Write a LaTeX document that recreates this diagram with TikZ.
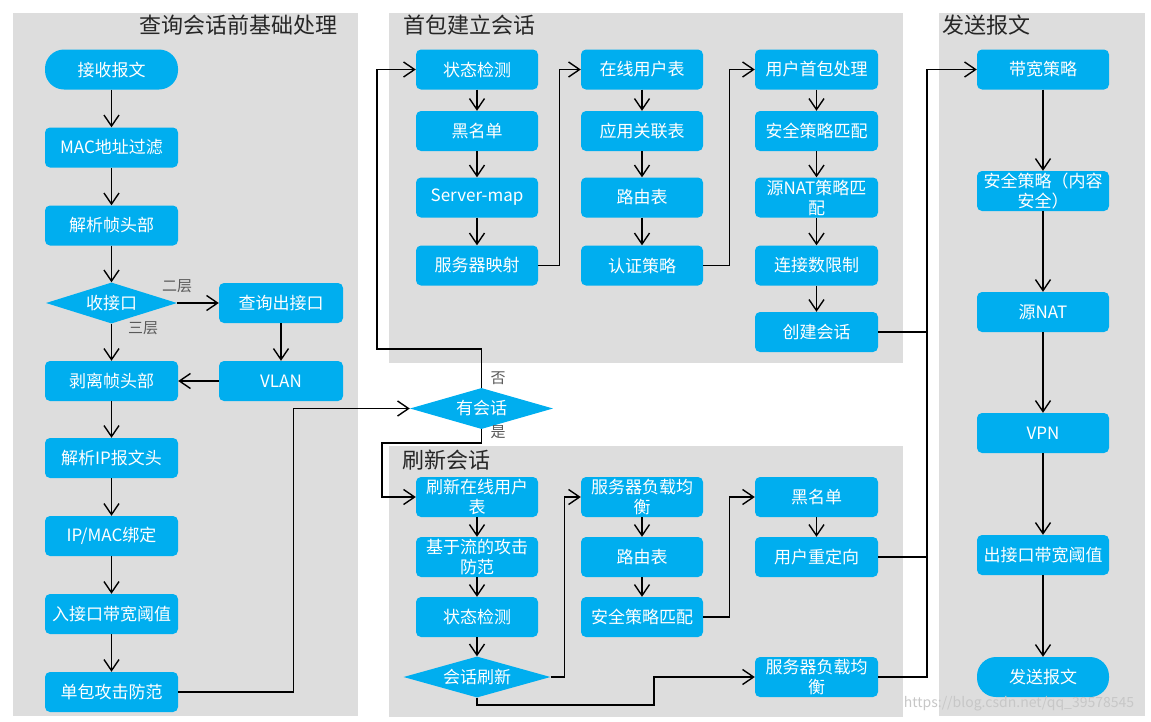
\documentclass[tikz,border=0pt]{standalone}
\usepackage{fontspec}
\setmainfont{Noto Sans CJK SC}
\usetikzlibrary{shapes.geometric,arrows.meta}

\definecolor{boxblue}{RGB}{0,174,239}
\definecolor{panelgray}{RGB}{221,221,221}

\tikzset{
  box/.style={rectangle, rounded corners=5pt, fill=boxblue, text=white,
    minimum width=#1, minimum height=40pt, inner sep=0pt, align=center,
    font=\fontsize{17}{20}\selectfont},
  box/.default=122pt,
  term/.style={box=#1, rounded corners=19pt},
  term/.default=133pt,
  decide/.style={diamond, fill=boxblue, text=white, minimum width=#1,
    minimum height=41pt, shape aspect=3.4, inner sep=0pt,
    font=\fontsize{17}{20}\selectfont},
  decide/.default=143pt,
  arr/.style={-{Straight Barb[length=11pt,width=15pt,line width=1.4pt]}, line width=1.4pt},
  wire/.style={line width=1.4pt},
  panel/.style={fill=panelgray},
  title/.style={font=\fontsize{22}{24}\selectfont, text=black!85},
  tag/.style={font=\fontsize{15}{17}\selectfont, text=black!65}
}

\begin{document}
\begin{tikzpicture}[x=1pt, y=-1pt]
\useasboundingbox (0,0) rectangle (1151,721);

% panels
\path[panel] (13,13) rectangle (358,716);
\path[panel] (389,13) rectangle (903,363);
\path[panel] (389,446) rectangle (903,717);
\path[panel] (939,13) rectangle (1145,716);

% titles
\node[title] (tpre) at (238,25) {查询会话前基础处理};
\node[title] (tfirst) at (469,25) {首包建立会话};
\node[title] (trefresh) at (446,460) {刷新会话};
\node[title] (tsend) at (986,25) {发送报文};

% before session lookup
\node[term] (recv) at (111.5,69.5) {接收报文};
\node[box=133pt] (macflt) at (111.5,147.5) {MAC地址过滤};
\node[box=133pt] (parsehdr) at (111.5,225.5) {解析帧头部};
\node[decide=131pt] (iface) at (111.5,303) {收接口};
\node[box=124pt] (lookout) at (281,303) {查询出接口};
\node[box=133pt] (strip) at (111.5,381) {剥离帧头部};
\node[box=124pt] (vlan) at (281,381) {VLAN};
\node[box=133pt] (parseip) at (111.5,458) {解析IP报文头};
\node[box=133pt] (ipmac) at (111.5,536) {IP/MAC绑定};
\node[box=133pt] (inbw) at (111.5,614) {入接口带宽阈值};
\node[box=133pt] (atk) at (111.5,692) {单包攻击防范};

% session decision
\node[decide] (hassess) at (481.5,408.5) {有会话};

% first packet
\node[box] (st1) at (477,69.5) {状态检测};
\node[box] (black1) at (477,131) {黑名单};
\node[box] (svmap) at (477,197.5) {Server-map};
\node[box] (mapping) at (477,265.5) {服务器映射};
\node[box] (online) at (642,69.5) {在线用户表};
\node[box] (appass) at (642,131) {应用关联表};
\node[box] (route1) at (642,197.5) {路由表};
\node[box] (auth) at (642,265.5) {认证策略};
\node[box=123pt] (ufirst) at (816.5,69.5) {用户首包处理};
\node[box=123pt] (sec1) at (816.5,131) {安全策略匹配};
\node[box=123pt] (snat1) at (816.5,197.5) {源NAT策略匹\\配};
\node[box=123pt] (connlim) at (816.5,265.5) {连接数限制};
\node[box=123pt] (create) at (816.5,332) {创建会话};

% refresh session
\node[box] (rfuser) at (477,497) {刷新在线用户\\表};
\node[box] (flowatk) at (477,557) {基于流的攻击\\防范};
\node[box] (st2) at (477,617) {状态检测};
\node[decide=147pt] (refresh) at (477,677) {会话刷新};
\node[box] (slb1) at (642,497) {服务器负载均\\衡};
\node[box] (route2) at (642,557) {路由表};
\node[box] (sec2) at (642,617) {安全策略匹配};
\node[box=123pt] (black2) at (816.5,497) {黑名单};
\node[box=123pt] (redir) at (816.5,557) {用户重定向};
\node[box=123pt] (slb2) at (816.5,677) {服务器负载均\\衡};

% send
\node[box=132pt] (bw) at (1043,69.5) {带宽策略};
\node[box=132pt] (sec3) at (1043,191) {安全策略（内容\\安全）};
\node[box=132pt] (snat2) at (1043,312) {源NAT};
\node[box=132pt] (vpn) at (1043,433) {VPN};
\node[box=132pt] (outbw) at (1043,555) {出接口带宽阈值};
\node[term=132pt] (send) at (1043,677) {发送报文};

% labels
\node[tag] (l2) at (177,286) {二层};
\node[tag] (l3) at (143,328) {三层};
\node[tag] (no) at (498,378) {否};
\node[tag] (yes) at (498,432) {是};
\node[font=\fontsize{14}{16}\selectfont, text=black!22] (wm) at (1019,704) {https://blog.csdn.net/qq\_39578545};

% joints
\coordinate (nojoin) at (377,349);
\coordinate (yesjoin) at (382,443);
\coordinate (rfjoin) at (654,705);
\coordinate (sendjoin) at (927,332);

% arrows
\draw[arr] (recv) -- (macflt);
\draw[arr] (macflt) -- (parsehdr);
\draw[arr] (parsehdr) -- (iface);
\draw[arr] (iface) -- (lookout);
\draw[arr] (iface) -- (strip);
\draw[arr] (lookout) -- (vlan);
\draw[arr] (vlan) -- (strip);
\draw[arr] (strip) -- (parseip);
\draw[arr] (parseip) -- (ipmac);
\draw[arr] (ipmac) -- (inbw);
\draw[arr] (inbw) -- (atk);
\draw[arr] (atk.east) -- ++(115,0) |- (hassess.west);

\draw[arr] (hassess.north) |- (nojoin) |- (st1.west);
\draw[arr] (hassess.south) |- (yesjoin) |- (rfuser.west);

\draw[arr] (st1) -- (black1);
\draw[arr] (black1) -- (svmap);
\draw[arr] (svmap) -- (mapping);
\draw[arr] (mapping.east) -- ++(21,0) |- (online.west);
\draw[arr] (online) -- (appass);
\draw[arr] (appass) -- (route1);
\draw[arr] (route1) -- (auth);
\draw[arr] (auth.east) -- ++(26,0) |- (ufirst.west);
\draw[arr] (ufirst) -- (sec1);
\draw[arr] (sec1) -- (snat1);
\draw[arr] (snat1) -- (connlim);
\draw[arr] (connlim) -- (create);

\draw[arr] (rfuser) -- (flowatk);
\draw[arr] (flowatk) -- (st2);
\draw[arr] (st2) -- (refresh);
\draw[arr] (refresh.east) -- ++(14,0) |- (slb1.west);
\draw[arr] (slb1) -- (route2);
\draw[arr] (route2) -- (sec2);
\draw[arr] (sec2.east) -- ++(26,0) |- (black2.west);
\draw[arr] (black2) -- (redir);
\draw[arr] (refresh.south) |- (rfjoin) |- (slb2.west);

\draw[wire] (slb2.east) -| (sendjoin);
\draw[wire] (redir.east) -- (redir.east -| sendjoin);
\draw[arr] (create.east) -- (sendjoin) |- (bw.west);

\draw[arr] (bw) -- (sec3);
\draw[arr] (sec3) -- (snat2);
\draw[arr] (snat2) -- (vpn);
\draw[arr] (vpn) -- (outbw);
\draw[arr] (outbw) -- (send);

\end{tikzpicture}
\end{document}
